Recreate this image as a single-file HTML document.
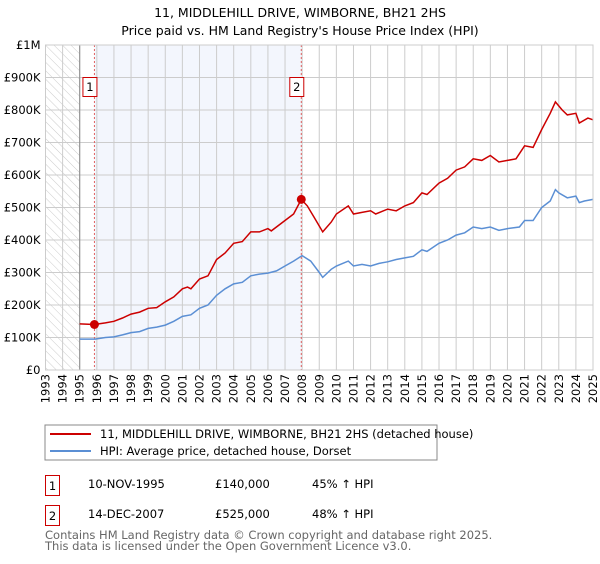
<!DOCTYPE html>
<html><head><meta charset="utf-8"><style>
body{margin:0;background:#fff;font-family:"DejaVu Sans","Liberation Sans",sans-serif;}
svg text{font-family:"DejaVu Sans","Liberation Sans",sans-serif;}
</style></head><body>
<svg id="chart" width="600" height="560" viewBox="0 0 600 560" xmlns="http://www.w3.org/2000/svg">
<defs><pattern id="hatch" width="6" height="6" patternUnits="userSpaceOnUse" patternTransform="rotate(-45)"><line x1="0" y1="0" x2="0" y2="6" stroke="#ccc" stroke-width="1"/></pattern></defs>
<text x="300" y="17" text-anchor="middle" font-size="12.5">11, MIDDLEHILL DRIVE, WIMBORNE, BH21 2HS</text>
<text x="300" y="35" text-anchor="middle" font-size="12.5">Price paid vs. HM Land Registry's House Price Index (HPI)</text>
<g id="plot"></g>
<g>
<rect x="45" y="425" width="392" height="35" fill="#fff" stroke="#888"/>
<line x1="50" y1="434" x2="91" y2="434" stroke="#cc0000" stroke-width="2"/>
<text x="100" y="438" font-size="11.5">11, MIDDLEHILL DRIVE, WIMBORNE, BH21 2HS (detached house)</text>
<line x1="50" y1="451" x2="91" y2="451" stroke="#5b8fd4" stroke-width="2"/>
<text x="100" y="455" font-size="11.5">HPI: Average price, detached house, Dorset</text>
</g>
<g font-size="11.5">
<rect x="45.5" y="475.5" width="14" height="20" fill="#fff" stroke="#cc0000"/><text x="52.5" y="490" text-anchor="middle">1</text>
<text x="88" y="488">10-NOV-1995</text><text x="215" y="488">£140,000</text><text x="312" y="488">45% ↑ HPI</text>
<rect x="45.5" y="505.5" width="14" height="20" fill="#fff" stroke="#cc0000"/><text x="52.5" y="520" text-anchor="middle">2</text>
<text x="88" y="518">14-DEC-2007</text><text x="215" y="518">£525,000</text><text x="312" y="518">48% ↑ HPI</text>
</g>
<text x="45" y="539" font-size="11.5" fill="#666">Contains HM Land Registry data © Crown copyright and database right 2025.</text>
<text x="45" y="550" font-size="11.5" fill="#666">This data is licensed under the Open Government Licence v3.0.</text>
</svg>
<script>
const hpiYears=[1995,1995.9,1996.5,1997,1997.5,1998,1998.5,1999,1999.5,2000,2000.5,2001,2001.5,2002,2002.5,2003,2003.5,2004,2004.5,2005,2005.5,2006,2006.5,2007,2007.5,2008,2008.5,2009,2009.2,2009.7,2010,2010.7,2011,2011.5,2012,2012.5,2013,2013.5,2014,2014.5,2015,2015.3,2016,2016.5,2017,2017.5,2018,2018.5,2019,2019.5,2020,2020.7,2021,2021.5,2022,2022.5,2022.8,2023,2023.5,2024,2024.2,2024.5,2025];
const hpiValues=[95,95,100,102,108,115,118,128,132,138,150,165,170,190,200,230,250,265,270,290,295,298,305,320,335,352,335,300,285,310,320,335,320,325,320,328,333,340,345,350,370,365,390,400,415,422,440,435,440,430,435,440,460,460,500,520,555,545,530,535,515,520,525];
const priceYears=[1995,1995.86,1996.5,1997,1997.5,1998,1998.5,1999,1999.5,2000,2000.5,2001,2001.3,2001.5,2002,2002.5,2003,2003.5,2004,2004.5,2005,2005.5,2006,2006.2,2007,2007.5,2007.95,2008.3,2008.7,2009.2,2009.7,2010,2010.7,2011,2011.5,2012,2012.3,2013,2013.5,2014,2014.5,2015,2015.3,2016,2016.5,2017,2017.5,2018,2018.5,2019,2019.5,2020,2020.5,2021,2021.5,2022,2022.5,2022.8,2023.2,2023.5,2024,2024.2,2024.7,2025];
const priceValues=[142,140,145,150,160,172,178,190,192,210,225,250,255,250,280,290,340,360,390,395,425,425,435,428,460,480,525,505,470,425,455,480,505,480,485,490,480,495,490,505,515,545,540,575,590,615,625,650,645,660,640,645,650,690,685,740,790,825,800,785,790,760,775,770];
const saleYears=[1995.86,2007.95];
const saleValues=[140,525];
const saleLabels=["1","2"];
const yTicks=[0,100,200,300,400,500,600,700,800,900,1000];
const yTickLabels=["£0","£100K","£200K","£300K","£400K","£500K","£600K","£700K","£800K","£900K","£1M"];
const xTicks=[1993,1994,1995,1996,1997,1998,1999,2000,2001,2002,2003,2004,2005,2006,2007,2008,2009,2010,2011,2012,2013,2014,2015,2016,2017,2018,2019,2020,2021,2022,2023,2024,2025];

const X0=45.5,X1=593,Y0=370,Y1=45;
const xs=v=>X0+(v-1993)/(2025-1993)*(X1-X0);
const ys=v=>Y0-(v/1000)*(Y0-Y1);
const NS="http://www.w3.org/2000/svg";
const g=document.getElementById('plot');
function mk(t,a,parent){const e=document.createElementNS(NS,t);for(const k in a)e.setAttribute(k,a[k]);(parent||g).appendChild(e);return e;}

let e;
e=mk('rect',{x:X0,y:Y1,width:X1-X0,height:Y0-Y1,fill:'#fff'});


e=mk('rect',{x:xs(saleYears[0]),y:Y1,width:xs(saleYears[1])-xs(saleYears[0]),height:Y0-Y1,fill:'#f3f6fd'});


e=mk('rect',{x:X0,y:Y1,width:xs(1995)-X0,height:Y0-Y1,fill:'url(#hatch)'});


xTicks.forEach(t=>{
  e=mk('line',{x1:xs(t),y1:Y1,x2:xs(t),y2:Y0,stroke:'#ccc','stroke-width':1});
  
  
  e=mk('text',{x:0,y:0,'font-size':11.5,'text-anchor':'end',transform:`translate(${xs(t)+4},${Y0+4}) rotate(-90)`});
  e.textContent=t;
  
  
});
yTicks.forEach((t,i)=>{
  e=mk('line',{x1:X0,y1:ys(t),x2:X1,y2:ys(t),stroke:'#ccc','stroke-width':1});
  
  
  e=mk('text',{x:X0-5,y:ys(t)+4,'font-size':11.5,'text-anchor':'end'});
  e.textContent=yTickLabels[i];
  
  
});
e=mk('line',{x1:xs(1995),y1:Y1,x2:xs(1995),y2:Y0,stroke:'#888','stroke-width':1});


saleYears.forEach((s,i)=>{
  e=mk('line',{x1:xs(s),y1:Y1,x2:xs(s),y2:Y0,stroke:'#e06060','stroke-width':1,'stroke-dasharray':'2,2'});
  
  
  e=mk('rect',{x:xs(s)-11.5,y:77.5,width:14,height:19,fill:'#fff',stroke:'#cc0000'});
  
  
  e=mk('text',{x:xs(s)-4.5,y:91,'font-size':11.5,'text-anchor':'middle'});
  e.textContent=saleLabels[i];
  
  
});
function path(xv,yv){return xv.map((x,i)=>(i?'L':'M')+xs(x).toFixed(1)+','+ys(yv[i]).toFixed(1)).join('');}
e=mk('path',{d:path(hpiYears,hpiValues),fill:'none',stroke:'#5b8fd4','stroke-width':1.5});


e=mk('path',{d:path(priceYears,priceValues),fill:'none',stroke:'#cc0000','stroke-width':1.5});


saleYears.forEach((s,i)=>{
  e=mk('circle',{cx:xs(s),cy:ys(saleValues[i]),r:4.5,fill:'#cc0000'});
  
  
});
e=mk('rect',{x:X0,y:Y1,width:X1-X0,height:Y0-Y1,fill:'none',stroke:'#ccc'});


</script>
</body></html>
